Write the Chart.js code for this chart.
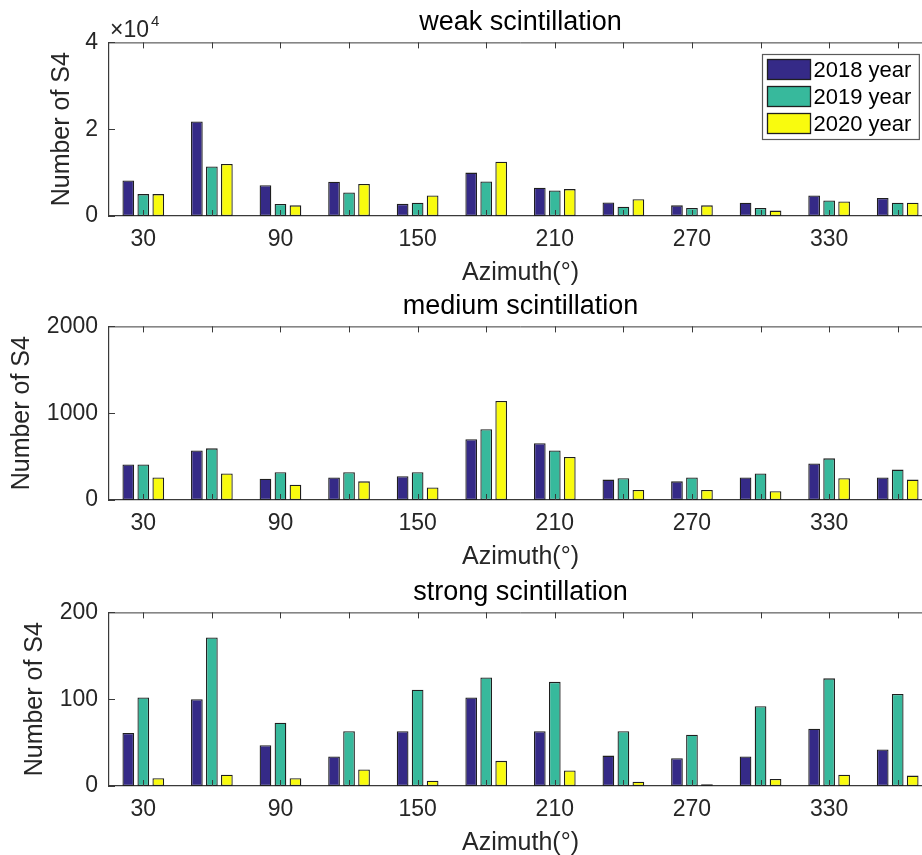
<!DOCTYPE html>
<html>
<head>
<meta charset="utf-8">
<script src="https://cdn.jsdelivr.net/npm/chart.js@4.4.1/dist/chart.umd.min.js"></script>
<style>
  html, body { margin: 0; padding: 0; background: #fff; overflow: hidden; width: 922px; height: 855px; }
  canvas { position: absolute; left: 0; }
</style>
</head>
<body>
<canvas id="weak" width="940" height="290" style="top:0px"></canvas>
<canvas id="medium" width="940" height="290" style="top:284px"></canvas>
<canvas id="strong" width="940" height="290" style="top:570px"></canvas>
<script>
// azimuth bins (degrees) and the tick labels that are printed
const azimuths = ['30', '60', '90', '120', '150', '180', '210', '240', '270', '300', '330', '360'];
const shownTicks = ['30', '90', '150', '210', '270', '330'];
const years = ['2018 year', '2019 year', '2020 year'];
const colors = ['#352a87', '#37b99c', '#f9fb0e'];

// weak scintillation counts
const weak2018 = [8200, 21800, 7100, 7900, 2800, 10000, 6500, 3100, 2450, 3050, 4750, 4150];
const weak2019 = [5050, 11400, 2750, 5400, 3050, 7950, 5900, 2150, 1850, 1850, 3600, 3050];
const weak2020 = [5050, 12000, 2450, 7400, 4750, 12500, 6200, 3850, 2450, 1250, 3350, 3050];

// medium scintillation counts
const medium2018 = [410, 570, 245, 260, 275, 700, 655, 235, 215, 260, 420, 260];
const medium2019 = [410, 595, 320, 320, 320, 815, 570, 250, 260, 305, 480, 350];
const medium2020 = [260, 305, 175, 215, 145, 1140, 495, 115, 115, 100, 250, 235];

// strong scintillation counts
const strong2018 = [61, 100, 47, 34, 63, 102, 63, 35, 32, 34, 66, 42];
const strong2019 = [102, 171, 73, 63, 111, 125, 120, 63, 59, 92, 124, 106];
const strong2020 = [9, 13, 9, 19, 6, 29, 18, 5, 2, 8, 13, 12];

const FONT = '"Liberation Sans", Arial, Helvetica, sans-serif';
const axisColor = '#3a3a3a';
const textColor = '#262626';

// box top line, inward tick marks, exponent note and framed legend
const axesBox = {
    id: 'axesBox',
    afterDatasetsDraw(chart, args, opts) {
        const { ctx, chartArea: a, scales: { x, y } } = chart;
        ctx.save();
        ctx.strokeStyle = axisColor;
        ctx.lineWidth = 1;
        ctx.beginPath();
        ctx.moveTo(a.left, a.top + 0.5);
        ctx.lineTo(a.right, a.top + 0.5);
        x.ticks.forEach((t, i) => {
            const px = Math.round(x.getPixelForTick(i)) + 0.5;
            ctx.moveTo(px, a.top);
            ctx.lineTo(px, a.top + 6);
            ctx.moveTo(px, a.bottom);
            ctx.lineTo(px, a.bottom - 6);
        });
        y.ticks.forEach((t, i) => {
            const py = Math.round(y.getPixelForTick(i)) + 0.5;
            ctx.moveTo(a.left, py);
            ctx.lineTo(a.left + 6, py);
        });
        ctx.stroke();

        if (opts.exponent) {
            ctx.fillStyle = textColor;
            ctx.textBaseline = 'alphabetic';
            ctx.textAlign = 'left';
            ctx.font = '23px ' + FONT;
            const base = '\u00d710';
            ctx.fillText(base, a.left + 1, a.top - 5);
            const w = ctx.measureText(base).width;
            ctx.font = '15px ' + FONT;
            ctx.fillText(opts.exponent, a.left + 3 + w, a.top - 16);
        }

        if (opts.legend) {
            const sets = chart.data.datasets;
            ctx.font = '22px ' + FONT;
            const textW = Math.max(...sets.map(ds => ctx.measureText(ds.label).width));
            const sw = 43, sh = 20, rowH = 27, padL = 5, gap = 3, padR = 8, padT = 5;
            const boxW = padL + sw + gap + textW + padR;
            const boxH = padT * 2 + sh + rowH * (sets.length - 1) + 1;
            const bx = Math.round(a.right - 13 - boxW) + 0.5;
            const by = Math.round(a.top + 12) + 0.5;
            ctx.fillStyle = '#fff';
            ctx.fillRect(bx, by, boxW, boxH);
            ctx.strokeStyle = '#5a5a5a';
            ctx.lineWidth = 1.2;
            ctx.strokeRect(bx, by, boxW, boxH);
            sets.forEach((ds, i) => {
                const sy = by + padT + i * rowH;
                ctx.fillStyle = ds.backgroundColor;
                ctx.fillRect(bx + padL, sy, sw, sh);
                ctx.strokeStyle = '#1f1f1f';
                ctx.lineWidth = 1.3;
                ctx.strokeRect(bx + padL, sy, sw, sh);
                ctx.fillStyle = '#000';
                ctx.textBaseline = 'middle';
                ctx.textAlign = 'left';
                ctx.fillText(ds.label, bx + padL + sw + gap, sy + sh / 2 + 1);
            });
        }
        ctx.restore();
    }
};

function makeChart(id, title, series, yMax, yStep, yTitlePad, tickFormat, extra) {
    return new Chart(document.getElementById(id), {
        type: 'bar',
        data: {
            labels: azimuths,
            datasets: series.map((data, i) => ({
                label: years[i],
                data: data,
                backgroundColor: colors[i],
                borderColor: '#1f1f1f',
                borderWidth: 1.3,
                borderSkipped: false,
                categoryPercentage: 0.656,
                barPercentage: 0.78,
            })),
        },
        options: {
            responsive: false,
            animation: false,
            layout: { padding: { left: 0, right: 8, top: 0, bottom: 0 } },
            plugins: {
                legend: { display: false },
                tooltip: { enabled: false },
                title: {
                    display: true,
                    text: title,
                    fullSize: false,
                    color: '#000',
                    font: { family: FONT, size: 27, weight: 'normal', lineHeight: 1.2 },
                    padding: { top: 6, bottom: 4 },
                },
                axesBox: extra,
            },
            scales: {
                x: {
                    type: 'category',
                    offset: true,
                    grid: { display: false, drawTicks: false },
                    border: { display: true, color: axisColor, width: 1.2 },
                    ticks: {
                        autoSkip: false,
                        maxRotation: 0,
                        padding: 10,
                        color: textColor,
                        font: { family: FONT, size: 23, lineHeight: 1.2 },
                        callback: function (value) {
                            const lab = this.getLabelForValue(value);
                            return shownTicks.includes(lab) ? lab : '';
                        },
                    },
                    title: {
                        display: true,
                        text: 'Azimuth(\u00b0)',
                        color: textColor,
                        font: { family: FONT, size: 25, lineHeight: 1.2 },
                        padding: { top: 0, bottom: 2 },
                    },
                    afterFit: (scale) => { scale.height = 74; },
                },
                y: {
                    min: 0,
                    max: yMax,
                    grid: { display: false, drawTicks: false },
                    border: { display: true, color: axisColor, width: 1.2 },
                    ticks: {
                        stepSize: yStep,
                        padding: 11,
                        color: textColor,
                        font: { family: FONT, size: 23, lineHeight: 1.2 },
                        callback: tickFormat,
                    },
                    title: {
                        display: true,
                        text: 'Number of S4',
                        color: textColor,
                        font: { family: FONT, size: 25, lineHeight: 1.2 },
                        padding: { top: yTitlePad, bottom: 0 },
                    },
                    afterFit: (scale) => { scale.width = 109; },
                },
            },
        },
        plugins: [axesBox],
    });
}

makeChart('weak', 'weak scintillation', [weak2018, weak2019, weak2020],
    40000, 20000, 47, (v) => v / 10000, { legend: true, exponent: '4' });
makeChart('medium', 'medium scintillation', [medium2018, medium2019, medium2020],
    2000, 1000, 7, (v) => v, {});
makeChart('strong', 'strong scintillation', [strong2018, strong2019, strong2020],
    200, 100, 20, (v) => v, {});
</script>
</body>
</html>
